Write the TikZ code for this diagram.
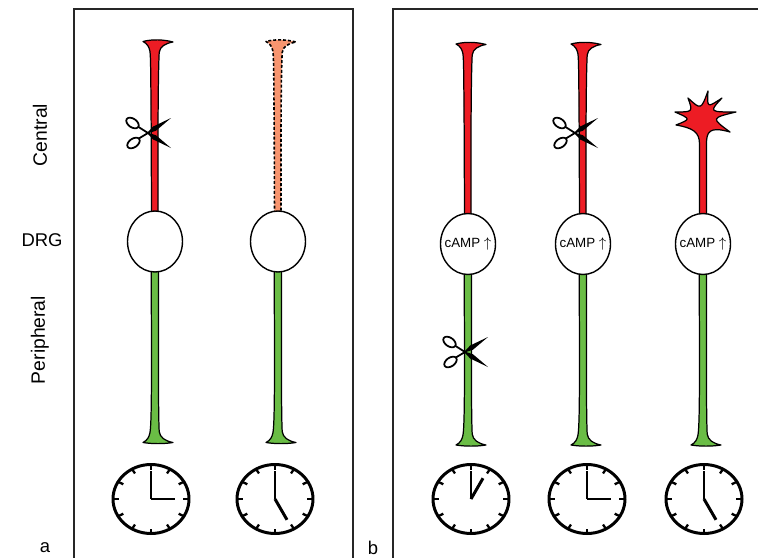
\documentclass[tikz,border=0pt]{standalone}
\usepackage{fontspec}
\setmainfont{Liberation Sans}
\usepackage{tikz}
\usetikzlibrary{shapes.geometric}
\definecolor{axonred}{HTML}{ED1C24}
\definecolor{axongreen}{HTML}{6ABD45}
\definecolor{axonfaded}{HTML}{F7956F}
\tikzset{%
	soma/.style={
		ellipse,
		draw,
		fill=white,
		line width=0.8pt,
		minimum width=1.1cm,
		minimum height=1.22cm,
		inner sep=0pt
	},
	camp/.style={font=\fontsize{7.6}{8}\selectfont, inner sep=0pt},
	axon/.style={draw=black, line width=0.7pt, line join=round},
	faded/.style={fill=axonfaded, line width=0.9pt, dash pattern=on 1.7pt off 1.1pt},
	panel/.style={draw=black!85, line width=0.6pt},
	side label/.style={rotate=90, font=\fontsize{11}{13}\selectfont},
	letter/.style={font=\fontsize{10.5}{12}\selectfont},
	% central branch, drawn upwards from the soma centre
	pics/central/.style={code={
		\path[axon,#1] (-3.5,-28) -- (-3.8,-110)
			.. controls (-4.2,-160) and (-4.2,-182) .. (-5,-190)
			.. controls (-6,-195) and (-8,-198) .. (-12,-200)
			.. controls (-3,-202.5) and (9,-202) .. (18,-199.5)
			.. controls (10,-198) and (5,-195) .. (4.2,-189)
			.. controls (3.5,-175) and (3.2,-150) .. (3,-110)
			-- (3,-28) -- cycle;
	}},
	% peripheral branch, drawn downwards from the soma centre
	pics/peripheral/.style={code={
		\path[axon,fill=axongreen] (-3.8,28) -- (-3.5,110)
			.. controls (-3.5,160) and (-3.8,183) .. (-5,191)
			.. controls (-6,196) and (-8,199) .. (-12,201)
			.. controls (-3,202.5) and (9,202.5) .. (18,201)
			.. controls (10,199.5) and (5,196) .. (4.2,190)
			.. controls (3.5,175) and (3.5,150) .. (3.5,110)
			-- (3.5,28) -- cycle;
	}},
	% regenerating central branch with a sprouting tip
	pics/sprouting/.style={code={
		\path[axon,fill=axonred] (-3.5,-28) -- (-3.5,-100)
			.. controls (-3.5,-112) and (-10,-116) .. (-27,-119)
			.. controls (-12,-125) .. (-28,-132)
			.. controls (-10,-132) .. (-15,-146)
			.. controls (-2,-134) .. (5,-153)
			.. controls (4,-136) .. (19,-146)
			.. controls (6,-132) .. (33,-132)
			.. controls (8,-126) .. (27,-112)
			.. controls (6,-118) and (3.5,-112) .. (3.5,-100)
			-- (3.5,-28) -- cycle;
	}},
	% scissors, centred on the crossing of the blades
	pics/scissors/.style={code={
		\draw[line width=1pt] (-11,-7) -- (0,0) (-10,6) -- (0,0);
		\draw[line width=1pt, fill=white, rotate around={-35:(-15.5,-10)}]
			(-15.5,-10) ellipse [x radius=7, y radius=4.3];
		\draw[line width=1pt, fill=white, rotate around={35:(-14.5,10)}]
			(-14.5,10) ellipse [x radius=7, y radius=4.3];
		\fill (-2,-1) -- (5.2,6.5) -- (23,15) -- (8,2.3) -- cycle;
		\fill (-2,1) -- (5.2,-6.5) -- (23,-15) -- (8,-2.3) -- cycle;
	}},
	% clock face, #1 is the angle of the hour hand
	pics/clock/.style={code={
		\draw[line width=1.7pt, fill=white] (0,0) ellipse [x radius=38, y radius=34.5];
		\foreach \a in {0,30,...,330}
			\draw[line width=1.3pt] ({38*cos(\a)},{34.5*sin(\a)}) -- ({32*cos(\a)},{29.5*sin(\a)});
		\draw[line width=1.7pt] (0,0) -- (0,-28);
		\draw[line width=1.7pt] (0,0) -- (#1:24);
	}},
}

\begin{document}
\begin{tikzpicture}[x=0.02cm, y=-0.02cm]
	\useasboundingbox (0,0) rectangle (758,558);

	% Draw the two panel frames
	\draw[panel] (74,558) -- (74,9) -- (353,9) -- (353,558);
	\draw[panel] (393,558) -- (393,9) -- (758,9);

	% Region labels
	\node[side label] (central) at (40,135) {Central};
	\node[font=\fontsize{10.5}{12}\selectfont] (drg) at (42,240) {DRG};
	\node[side label] (peripheral) at (40,340) {Peripheral};
	\node[letter] (label a) at (45,548) {a};
	\node[letter] (label b) at (373,548) {b};

	% Panel a, first neuron: central branch cut
	\pic at (155,241.5) {central={fill=axonred}};
	\pic at (155,241.5) {peripheral};
	\node[soma] (soma a1) at (155,241.5) {};
	\pic (cut a1) at (148,133) {scissors};
	\pic (clock a1) at (151,499) {clock=0};

	% Panel a, second neuron: central branch fading
	\pic at (278,241.5) {central=faded};
	\pic at (278,241.5) {peripheral};
	\node[soma] (soma a2) at (278,241.5) {};
	\pic (clock a2) at (275,499) {clock=60};

	% Panel b, first neuron: peripheral branch cut
	\pic at (468,244) {central={fill=axonred}};
	\pic at (468,244) {peripheral};
	\node[soma] (soma b1) at (468,244) {};
	\node[camp] at (soma b1) {cAMP $\uparrow$};
	\pic (cut b1) at (465,352) {scissors};
	\pic (clock b1) at (471,499) {clock=-60};

	% Panel b, second neuron: central branch cut
	\pic at (583,244) {central={fill=axonred}};
	\pic at (583,244) {peripheral};
	\node[soma] (soma b2) at (583,244) {};
	\node[camp] at (soma b2) {cAMP $\uparrow$};
	\pic (cut b2) at (575,133) {scissors};
	\pic (clock b2) at (587,499) {clock=0};

	% Panel b, third neuron: central branch sprouting
	\pic at (703,244) {sprouting};
	\pic at (703,244) {peripheral};
	\node[soma] (soma b3) at (703,244) {};
	\node[camp] at (soma b3) {cAMP $\uparrow$};
	\pic (clock b3) at (704,499) {clock=60};
\end{tikzpicture}
\end{document}
